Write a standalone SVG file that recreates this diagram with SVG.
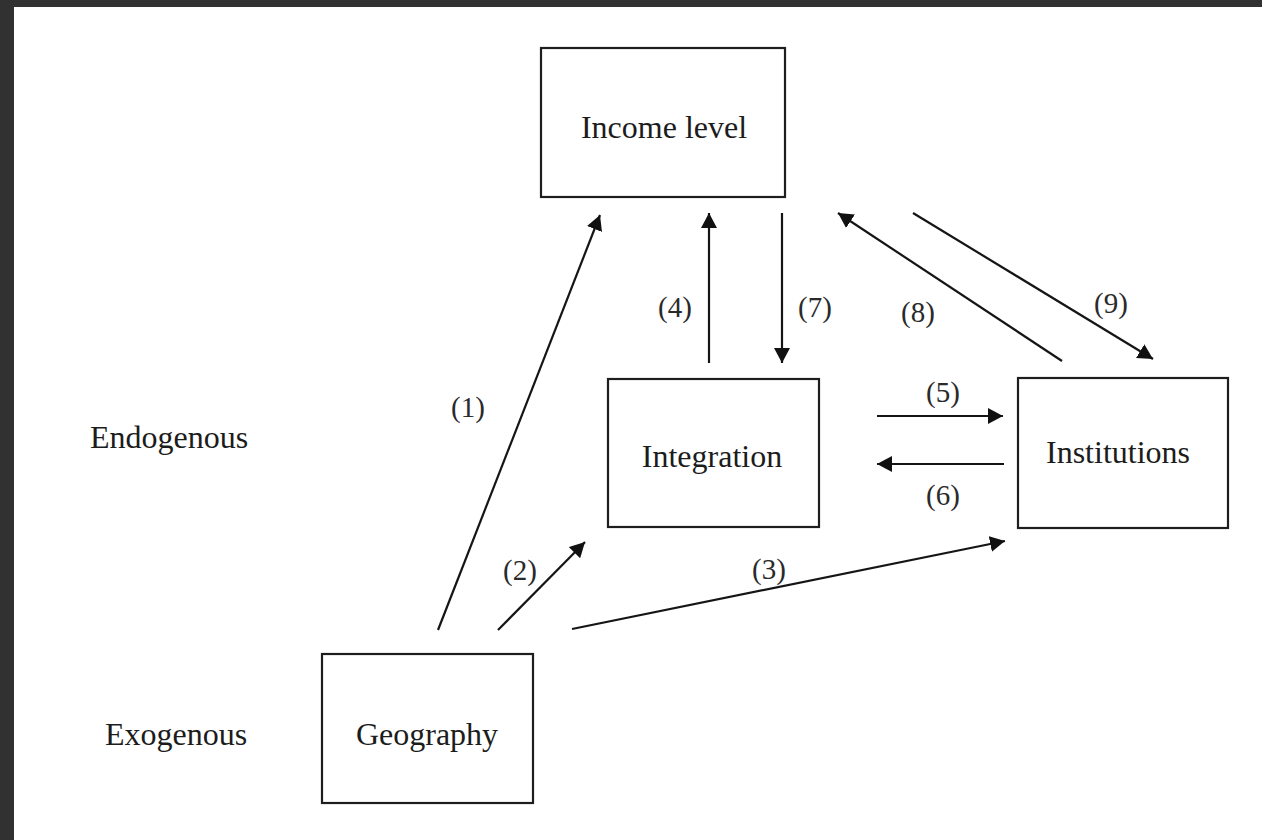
<svg xmlns="http://www.w3.org/2000/svg" width="1262" height="840" viewBox="0 0 1262 840">
<style>
.box{fill:#fff;stroke:#1e1e1e;stroke-width:2.2}
.t{font-family:"Liberation Serif","Times New Roman",serif;font-size:32px;fill:#1c1c1c;text-anchor:middle}
.l{font-family:"Liberation Serif","Times New Roman",serif;font-size:29px;fill:#2a2a2a;text-anchor:middle}
.c{stroke:#151515;stroke-width:2.2;fill:none;marker-end:url(#ah)}
</style>
<defs>
<marker id="ah" markerUnits="userSpaceOnUse" markerWidth="18" markerHeight="18" refX="15" refY="8" orient="auto">
<path d="M0,0 L15,8 L0,16 z" fill="#111"/>
</marker>
</defs>
<rect x="0" y="0" width="1262" height="840" fill="#313131"/>
<rect x="14" y="7" width="1248" height="833" fill="#fff"/>

<g id="side-labels">
<text class="t" x="169" y="448">Endogenous</text>
<text class="t" x="176" y="745">Exogenous</text>
</g>

<g id="income">
<rect class="box" x="541" y="48" width="244" height="149"/>
<text class="t" x="664" y="138">Income level</text>
</g>
<g id="integration">
<rect class="box" x="608" y="379" width="211" height="148"/>
<text class="t" x="712" y="467">Integration</text>
</g>
<g id="institutions">
<rect class="box" x="1018" y="378" width="210" height="150"/>
<text class="t" x="1118" y="463">Institutions</text>
</g>
<g id="geography">
<rect class="box" x="322" y="654" width="211" height="149"/>
<text class="t" x="427" y="745">Geography</text>
</g>

<g id="connectors">
<line class="c" x1="438" y1="630" x2="600" y2="215"/>
<line class="c" x1="498" y1="630" x2="585" y2="542"/>
<line class="c" x1="572" y1="629" x2="1005" y2="541"/>
<line class="c" x1="709" y1="363" x2="709" y2="213"/>
<line class="c" x1="782" y1="213" x2="782" y2="363"/>
<line class="c" x1="1062" y1="361" x2="838" y2="213"/>
<line class="c" x1="913" y1="213" x2="1153" y2="359"/>
<line class="c" x1="877" y1="416" x2="1003" y2="416"/>
<line class="c" x1="1004" y1="464" x2="877" y2="464"/>
</g>

<g id="connector-labels">
<text class="l" x="468" y="417">(1)</text>
<text class="l" x="520" y="580">(2)</text>
<text class="l" x="769" y="579">(3)</text>
<text class="l" x="675" y="317">(4)</text>
<text class="l" x="943" y="402">(5)</text>
<text class="l" x="943" y="505">(6)</text>
<text class="l" x="815" y="317">(7)</text>
<text class="l" x="918" y="322">(8)</text>
<text class="l" x="1111" y="313">(9)</text>
</g>
</svg>
